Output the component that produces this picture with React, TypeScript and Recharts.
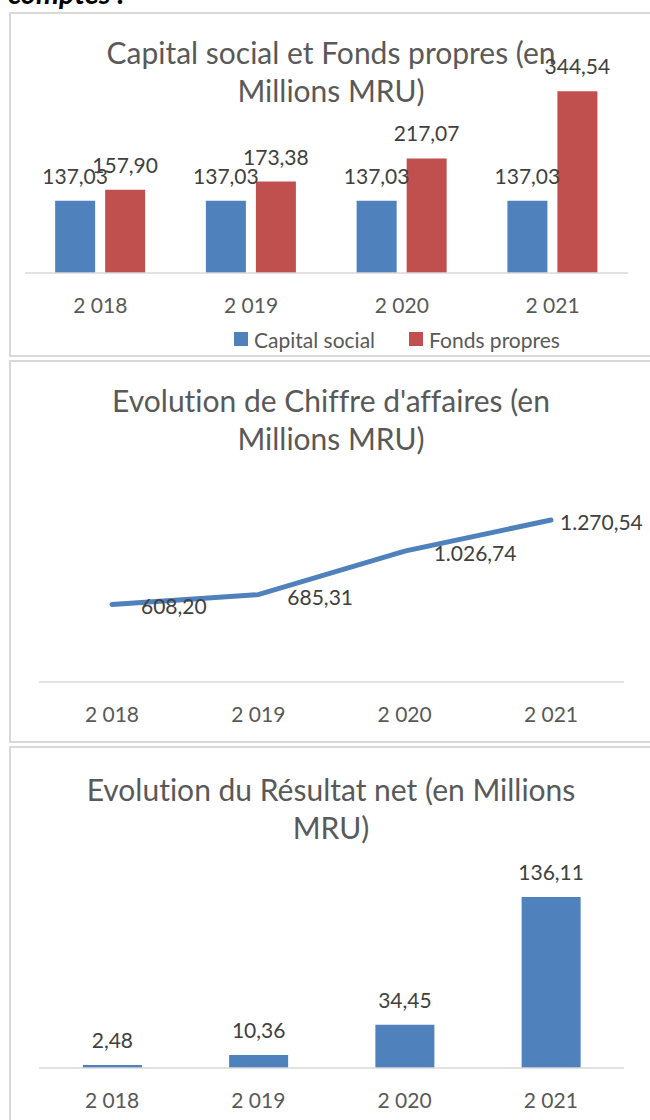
import { BarChart, Bar, LineChart, Line, XAxis, YAxis, LabelList, Legend } from 'recharts'

const YEARS = ['2 018', '2 019', '2 020', '2 021']
const CAPITAL_SOCIAL = [137.03, 137.03, 137.03, 137.03]
const FONDS_PROPRES = [157.9, 173.38, 217.07, 344.54]
const CHIFFRE_AFFAIRES = [608.2, 685.31, 1026.74, 1270.54]
const RESULTAT_NET = [2.48, 10.36, 34.45, 136.11]

const BLUE = '#4F81BD'
const RED = '#C0504D'
const FONT = "Lato, 'Noto Sans', sans-serif"
const BORDER = '#D9D9D9'

// 1.270,54 style
const fmt = (v: number) => {
  const [i, d] = Number(v).toFixed(2).split('.')
  return i.replace(/\B(?=(\d{3})+(?!\d))/g, '.') + ',' + d
}

const capitalData = YEARS.map((year, i) => ({ year, capital: CAPITAL_SOCIAL[i], fonds: FONDS_PROPRES[i] }))
const caData = YEARS.map((year, i) => ({ year, ca: CHIFFRE_AFFAIRES[i] }))
const rnData = YEARS.map((year, i) => ({ year, rn: RESULTAT_NET[i] }))

const tick = { fill: '#595959', fontSize: 21 }
const axisLine = { stroke: BORDER, strokeWidth: 1.5 }

function Panel({ top, height }: { top: number; height: number }) {
  return (
    <div
      style={{
        position: 'absolute', left: 9, top, width: 700, height,
        border: `2px solid ${BORDER}`, boxSizing: 'border-box',
      }}
    />
  )
}

function Title({ top, lines }: { top: number; lines: string[] }) {
  return (
    <div
      style={{
        position: 'absolute', left: 9, top, width: 644, textAlign: 'center',
        fontSize: 30, lineHeight: '38px', color: '#595959',
      }}
    >
      {lines.map(l => <div key={l}>{l}</div>)}
    </div>
  )
}

function renderLegend(props: any) {
  const items = props.payload || []
  return (
    <div style={{ display: 'flex', alignItems: 'center', paddingLeft: 234, height: 36, fontSize: 21, color: '#595959' }}>
      {items.map((e: any) => (
        <span key={e.value} style={{ display: 'flex', alignItems: 'center', marginRight: 34 }}>
          <span style={{ width: 14, height: 14, background: e.color, marginRight: 6, display: 'inline-block' }} />
          <span>{e.value}</span>
        </span>
      ))}
    </div>
  )
}

function LineLabel(props: any) {
  const { x, y, value, index } = props
  const dx = index === CHIFFRE_AFFAIRES.length - 1 ? 9 : 29
  return (
    <text x={x + dx} y={y + 10} fill="#404040" fontSize={21} textAnchor="start">
      {fmt(value)}
    </text>
  )
}

export default function App() {
  return (
    <div style={{
      position: 'absolute', left: 0, top: 0, width: 650, height: 1120, overflow: 'hidden',
      background: '#fff', fontFamily: FONT, fontVariantLigatures: 'none',
    }}>
      <div style={{ position: 'absolute', left: 8, top: -22, fontSize: 29, lineHeight: '30px', fontWeight: 700, fontStyle: 'italic', color: '#000' }}>
        comptes :
      </div>

      <Panel top={12} height={345} />
      <Panel top={360} height={383} />
      <Panel top={746} height={400} />

      <Title top={33} lines={['Capital social et Fonds propres (en', 'Millions MRU)']} />
      <Title top={381} lines={["Evolution de Chiffre d'affaires (en", 'Millions MRU)']} />
      <Title top={770} lines={['Evolution du Résultat net (en Millions', 'MRU)']} />

      <div style={{ position: 'absolute', left: 0, top: 12 }}>
        <BarChart width={650} height={345} data={capitalData} margin={{ top: 50, left: 25, right: 22, bottom: 0 }}
          barCategoryGap="20%" barGap={10}>
          <XAxis dataKey="year" height={48} tickLine={false} tickSize={0} tickMargin={25} axisLine={axisLine} tick={tick} />
          <YAxis hide domain={[0, 400]} />
          <Legend verticalAlign="bottom" height={36} wrapperStyle={{ left: 0, width: 650 }} content={renderLegend} />
          <Bar dataKey="capital" name="Capital social" fill={BLUE} isAnimationActive={false}>
            <LabelList dataKey="capital" position="top" offset={17} fill="#404040" fontSize={21} formatter={fmt} />
          </Bar>
          <Bar dataKey="fonds" name="Fonds propres" fill={RED} isAnimationActive={false}>
            <LabelList dataKey="fonds" position="top" offset={17} fill="#404040" fontSize={21} formatter={fmt} />
          </Bar>
        </BarChart>
      </div>

      <div style={{ position: 'absolute', left: 0, top: 361 }}>
        <LineChart width={650} height={382} data={caData} margin={{ top: 142.5, left: 39, right: 26, bottom: 0 }}>
          <XAxis dataKey="year" height={61} tickLine={false} tickSize={0} tickMargin={25} axisLine={axisLine} tick={tick}
            padding={{ left: 73, right: 73 }} />
          <YAxis hide domain={[0, 1400]} />
          <Line dataKey="ca" stroke={BLUE} strokeWidth={5} strokeLinecap="round" dot={false} isAnimationActive={false}>
            <LabelList dataKey="ca" content={LineLabel} />
          </Line>
        </LineChart>
      </div>

      <div style={{ position: 'absolute', left: 0, top: 747 }}>
        <BarChart width={650} height={373} data={rnData} margin={{ top: 120, left: 39, right: 26, bottom: 0 }}
          barCategoryGap="30%">
          <XAxis dataKey="year" height={52} tickLine={false} tickSize={0} tickMargin={25} axisLine={axisLine} tick={tick} />
          <YAxis hide domain={[0, 160]} />
          <Bar dataKey="rn" fill={BLUE} isAnimationActive={false}>
            <LabelList dataKey="rn" position="top" offset={17} fill="#404040" fontSize={21} formatter={fmt} />
          </Bar>
        </BarChart>
      </div>
    </div>
  )
}
